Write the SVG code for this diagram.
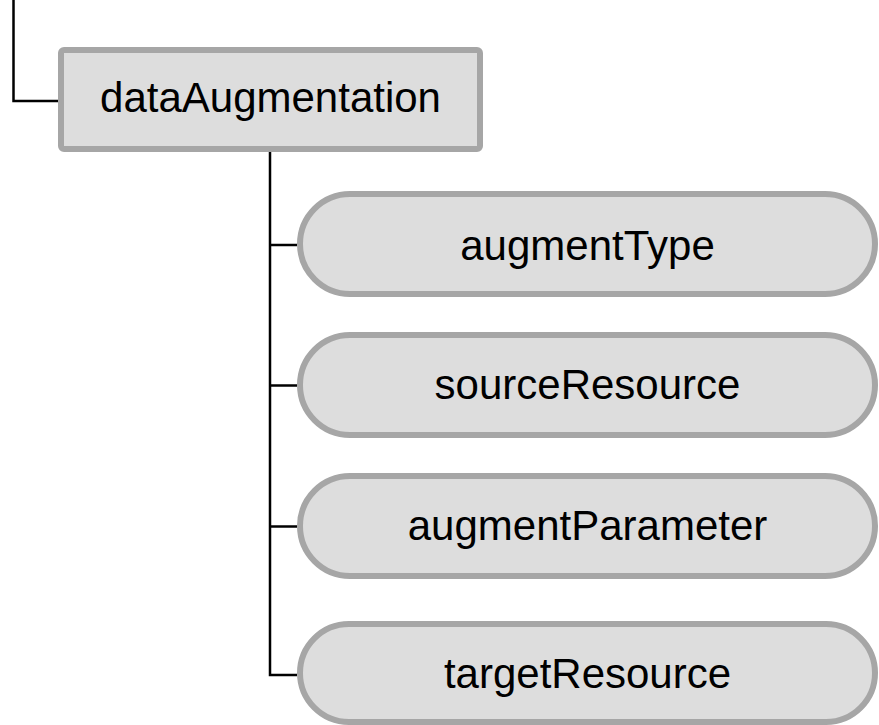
<svg xmlns="http://www.w3.org/2000/svg" width="879" height="725" viewBox="0 0 879 725">
  <style>
    .box { fill: #dddddd; stroke: #a6a6a6; stroke-width: 6; }
    .lbl { font-family: "Liberation Sans", Arial, sans-serif; font-size: 42px; fill: #000000; text-anchor: middle; }
    .wire { fill: none; stroke: #000000; stroke-width: 2.5; }
  </style>

  <g id="connectors">
    <polyline class="wire" points="13.5,0 13.5,101 58,101"/>
    <polyline class="wire" points="270,152 270,675 297,675"/>
    <line class="wire" x1="270" y1="245" x2="297" y2="245"/>
    <line class="wire" x1="270" y1="385.5" x2="297" y2="385.5"/>
    <line class="wire" x1="270" y1="526.5" x2="297" y2="526.5"/>
  </g>

  <g id="dataAugmentation">
    <rect class="box" x="61" y="50" width="419" height="99" rx="3"/>
    <text class="lbl" x="270.5" y="112">dataAugmentation</text>
  </g>

  <g id="augmentType">
    <rect class="box" x="300" y="194" width="575" height="100" rx="50"/>
    <text class="lbl" x="587.5" y="260">augmentType</text>
  </g>

  <g id="sourceResource">
    <rect class="box" x="300" y="335" width="575" height="100" rx="50"/>
    <text class="lbl" x="587.5" y="399">sourceResource</text>
  </g>

  <g id="augmentParameter">
    <rect class="box" x="300" y="476" width="575" height="100" rx="50"/>
    <text class="lbl" x="587.5" y="540">augmentParameter</text>
  </g>

  <g id="targetResource">
    <rect class="box" x="300" y="624" width="575" height="98" rx="49"/>
    <text class="lbl" x="587.5" y="688">targetResource</text>
  </g>
</svg>
